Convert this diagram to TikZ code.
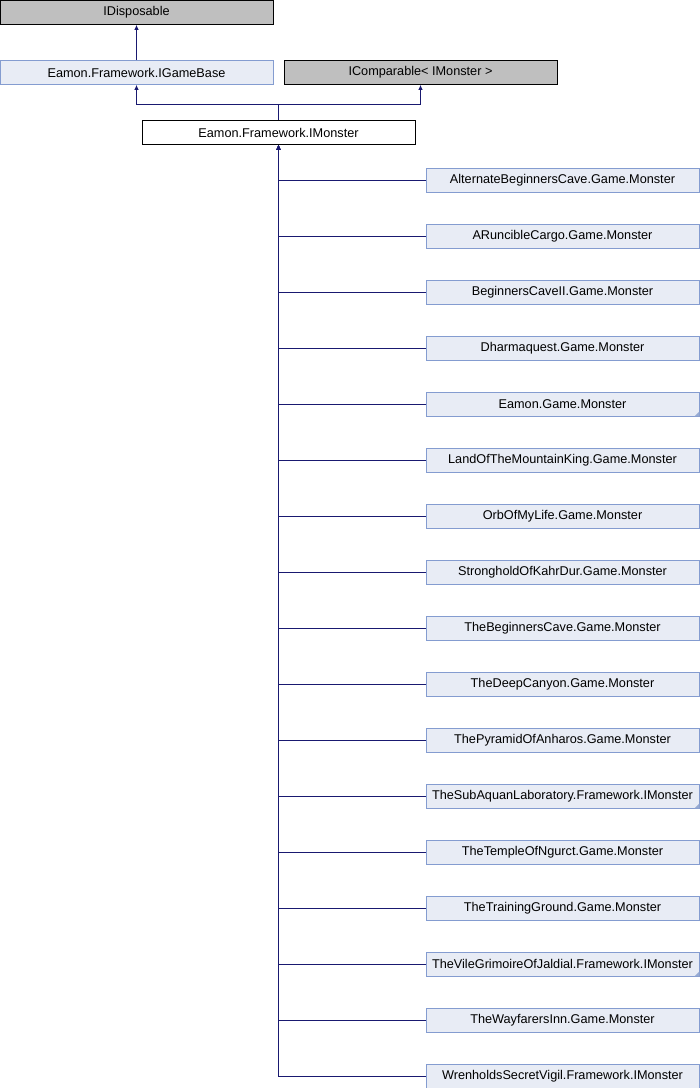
\documentclass[tikz,border=0pt]{standalone}
\usepackage{fontspec}
\setmainfont{Liberation Sans}
\usetikzlibrary{arrows.meta}
\definecolor{edgeblue}{RGB}{25,25,112}
\definecolor{boxblue}{RGB}{232,236,245}
\definecolor{lineblue}{RGB}{132,156,208}
\definecolor{boxgrey}{RGB}{191,191,191}
\definecolor{foldblue}{RGB}{150,170,210}
\tikzset{
  cls/.style={minimum width=273pt,minimum height=24pt,inner sep=0pt,
    font=\fontsize{12.7}{14}\selectfont,line width=0.8pt},
  extcls/.style={cls,draw=black,fill=boxgrey},
  doccls/.style={cls,draw=lineblue,fill=boxblue},
  curcls/.style={cls,draw=black,fill=white},
  inh/.style={->,draw=edgeblue,line width=0.8pt}
}
\begin{document}
\begin{tikzpicture}[x=1pt,y=-1pt,>={Latex[length=5pt,width=4.5pt]}]
\useasboundingbox (0,0) rectangle (700,1088);
\def\xleft{136.5}
\def\xmid{278.5}
\def\xright{562.5}
\node[extcls] (idisp) at (\xleft,12.5) {IDisposable};
\node[doccls] (gbase) at (\xleft,72.5) {Eamon.Framework.IGameBase};
\node[extcls] (icomp) at (420.5,72.5) {IComparable< IMonster >};
\node[curcls] (imon) at (\xmid,132.5) {Eamon.Framework.IMonster};
\draw[inh] (gbase) -- (idisp);
\coordinate (fork) at (\xmid,104);
\draw[inh] (imon.north) -- (fork) -| (gbase.south);
\draw[inh] (fork) -| (icomp.south);
% derived classes
\foreach \i/\lbl/\fold in {
  1/AlternateBeginnersCave.Game.Monster/0,
  2/ARuncibleCargo.Game.Monster/0,
  3/BeginnersCaveII.Game.Monster/0,
  4/Dharmaquest.Game.Monster/0,
  5/Eamon.Game.Monster/1,
  6/LandOfTheMountainKing.Game.Monster/0,
  7/OrbOfMyLife.Game.Monster/0,
  8/StrongholdOfKahrDur.Game.Monster/0,
  9/TheBeginnersCave.Game.Monster/0,
  10/TheDeepCanyon.Game.Monster/0,
  11/ThePyramidOfAnharos.Game.Monster/0,
  12/TheSubAquanLaboratory.Framework.IMonster/1,
  13/TheTempleOfNgurct.Game.Monster/0,
  14/TheTrainingGround.Game.Monster/0,
  15/TheVileGrimoireOfJaldial.Framework.IMonster/1,
  16/TheWayfarersInn.Game.Monster/0,
  17/WrenholdsSecretVigil.Framework.IMonster/0}{
  \node[doccls] (c\i) at (\xright,{124+56*\i}) {\lbl};
  \ifnum\fold=1
    \fill[foldblue] (c\i.south east) -- ++(0,-5) -- ++(-5,5) -- cycle;
  \fi
  \draw[inh] (c\i.west) -| (imon.south);
}
\end{tikzpicture}
\end{document}
